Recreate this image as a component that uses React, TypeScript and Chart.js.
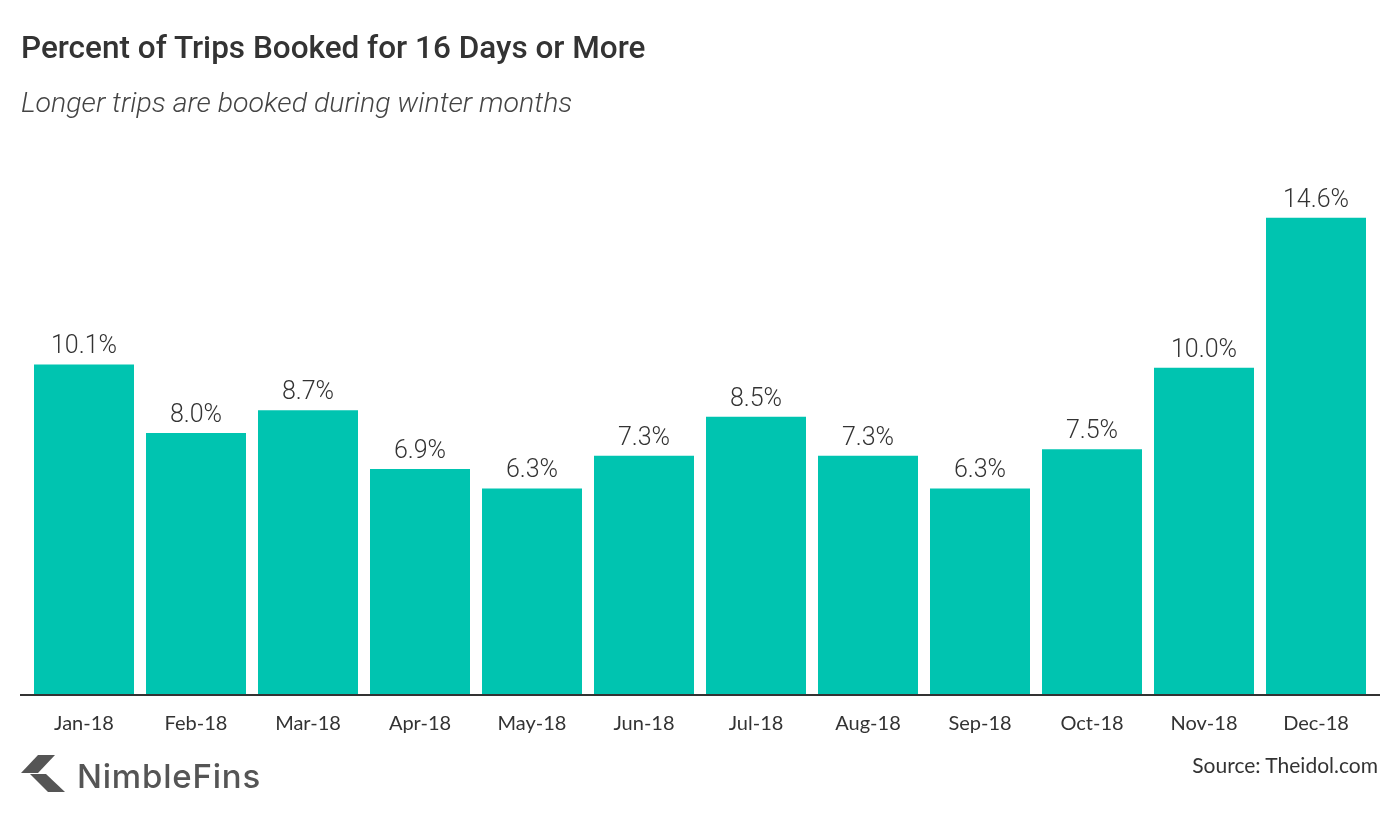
import React, { useEffect, useRef } from "react";
import { Chart, registerables } from "chart.js";

Chart.register(...registerables);

const categories = ["Jan-18", "Feb-18", "Mar-18", "Apr-18", "May-18", "Jun-18", "Jul-18", "Aug-18", "Sep-18", "Oct-18", "Nov-18", "Dec-18"];
const values = [10.1, 8.0, 8.7, 6.9, 6.3, 7.3, 8.5, 7.3, 6.3, 7.5, 10.0, 14.6];
const titleText = "Percent of Trips Booked for 16 Days or More";
const subtitleText = "Longer trips are booked during winter months";
const sourceText = "Source: Theidol.com";
const brandText = "NimbleFins";

const BAR_COLOR = "#00C4B0";
const TEXT_COLOR = "#333333";

const labelsPlugin = {
  id: "barLabels",
  afterDatasetsDraw(chart: any) {
    const ctx = chart.ctx;
    const meta = chart.getDatasetMeta(0);
    ctx.save();
    ctx.font = "300 25px Roboto, sans-serif";
    ctx.fillStyle = TEXT_COLOR;
    ctx.textAlign = "center";
    ctx.textBaseline = "alphabetic";
    meta.data.forEach((bar: any, i: number) => {
      const v = chart.data.datasets[0].data[i] as number;
      ctx.fillText(v.toFixed(1) + "%", bar.x, bar.y - 11);
    });
    ctx.restore();
  },
};

const axisLinePlugin = {
  id: "axisLine",
  afterDatasetsDraw(chart: any) {
    const ctx = chart.ctx;
    const y = chart.chartArea.bottom;
    ctx.save();
    ctx.strokeStyle = "#333333";
    ctx.lineWidth = 2;
    ctx.beginPath();
    ctx.moveTo(20, y + 1);
    ctx.lineTo(1380, y + 1);
    ctx.stroke();
    ctx.restore();
  },
};

export default function App() {
  const canvasRef = useRef<HTMLCanvasElement | null>(null);

  useEffect(() => {
    if (!canvasRef.current) return;
    const chart = new Chart(canvasRef.current, {
      type: "bar",
      data: {
        labels: categories,
        datasets: [
          {
            data: values,
            backgroundColor: BAR_COLOR,
            borderWidth: 0,
            categoryPercentage: 1,
            barPercentage: 100 / 112,
          },
        ],
      },
      options: {
        responsive: false,
        animation: false,
        layout: { padding: { left: 28, right: 28, top: 172, bottom: 0 } },
        plugins: {
          legend: { display: false },
          tooltip: { enabled: false },
          title: { display: false },
        },
        scales: {
          x: {
            grid: { display: false, drawTicks: false },
            border: { display: false },
            ticks: {
              color: TEXT_COLOR,
              font: { family: "Lato, Roboto, sans-serif", size: 20 },
              padding: 18,
              maxRotation: 0,
              autoSkip: false,
            },
            afterFit(scale: any) {
              scale.height = 128;
            },
          },
          y: {
            display: false,
            min: 0,
            max: 16,
          },
        },
      },
      plugins: [labelsPlugin, axisLinePlugin],
    });
    return () => chart.destroy();
  }, []);

  return (
    <div
      style={{
        position: "absolute",
        left: 0,
        top: 0,
        width: 1400,
        height: 822,
        background: "#ffffff",
        overflow: "hidden",
        fontFamily: "Roboto, sans-serif",
      }}
    >
      <canvas ref={canvasRef} width={1400} height={822} style={{ position: "absolute", left: 0, top: 0, width: 1400, height: 822 }} />
      <div
        style={{
          position: "absolute",
          left: 21,
          top: 28,
          fontSize: 31.5,
          fontWeight: 500,
          color: "#333333",
          whiteSpace: "nowrap",
          lineHeight: "40px",
        }}
      >
        {titleText}
      </div>
      <div
        style={{
          position: "absolute",
          left: 21,
          top: 84,
          fontSize: 28.5,
          fontWeight: 300,
          fontStyle: "italic",
          color: "#444444",
          whiteSpace: "nowrap",
          lineHeight: "38px",
        }}
      >
        {subtitleText}
      </div>
      <div
        style={{
          position: "absolute",
          right: 22,
          top: 751,
          fontSize: 21,
          fontFamily: "Lato, Roboto, sans-serif",
          color: "#333333",
          whiteSpace: "nowrap",
          lineHeight: "28px",
        }}
      >
        {sourceText}
      </div>
      <svg style={{ position: "absolute", left: 20, top: 754 }} width={46} height={40} viewBox="0 0 46 40">
        <polygon points="18,1 35,1 18,19 1,19" fill="#555555" />
        <polygon points="10,20 26,20 45,38 28,38" fill="#555555" />
      </svg>
      <div
        style={{
          position: "absolute",
          left: 77,
          top: 756,
          fontSize: 33,
          fontWeight: 500,
          letterSpacing: 0.8,
          color: "#555555",
          whiteSpace: "nowrap",
          lineHeight: "40px",
          fontFamily: "Inter, Roboto, sans-serif",
        }}
      >
        {brandText}
      </div>
    </div>
  );
}
